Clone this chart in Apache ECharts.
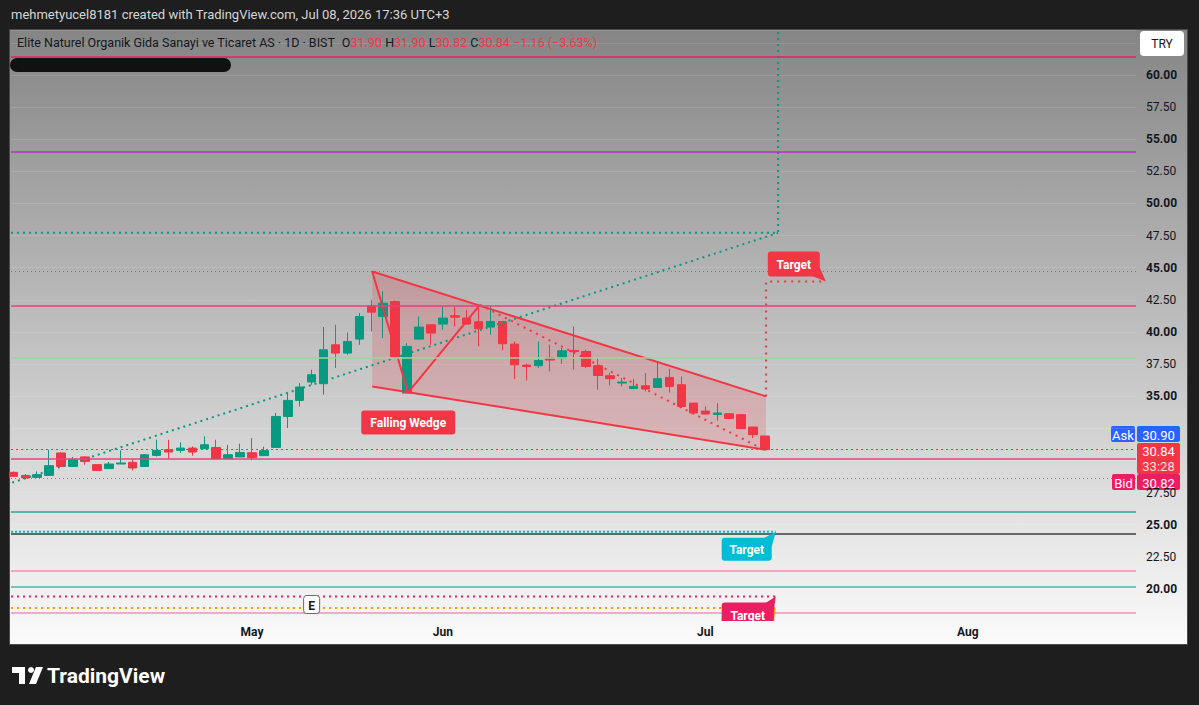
<!DOCTYPE html>
<html>
<head>
<meta charset="utf-8">
<script src="https://cdn.jsdelivr.net/npm/echarts@6/dist/echarts.min.js"></script>
<style>
html, body { margin: 0; padding: 0; background: #1e1e1e; }
#wrap { position: relative; width: 1199px; height: 705px; }
#panel { position: absolute; left: 10px; top: 30px; width: 1177px; height: 614px;
  background: linear-gradient(#858585, #fbfbfb); box-shadow: 0 0 0 1px #4a4a4a; }
#chart { position: absolute; left: 0; top: 0; width: 1199px; height: 705px; }
</style>
</head>
<body>
<div id="wrap">
<div id="panel"></div>
<div id="chart"></div>
</div>
<script>
// daily bars, index 0 = early April ... 63 = Jul 08
var opens = [29.07, 28.83, 28.68, 28.83, 30.58, 29.53, 30.27, 29.67, 29.36, 29.72,
	29.85, 29.53, 30.39, 30.83, 30.78, 30.96, 30.91, 31.01, 30.13, 30.27,
	30.60, 30.37, 31.01, 33.42, 34.67, 36.10, 35.97, 39.00, 38.35, 39.44,
	42.03, 41.20, 42.37, 35.24, 39.44, 40.56, 40.61, 41.26, 41.08, 40.79,
	40.38, 40.81, 39.05, 37.42, 37.37, 37.99, 37.96, 38.56, 38.48, 37.37,
	36.59, 36.02, 35.60, 35.81, 35.68, 36.46, 35.89, 34.46, 33.84, 33.58,
	33.63, 33.56, 32.60, 31.90];
var closes = [28.76, 28.63, 28.89, 29.59, 29.53, 30.06, 29.92, 29.22, 29.72, 29.80,
	29.41, 30.44, 30.78, 30.65, 30.96, 30.65, 31.22, 30.13, 30.44, 30.62,
	30.21, 30.76, 33.42, 34.67, 35.71, 36.67, 38.61, 38.35, 39.26, 41.20,
	41.54, 42.24, 38.04, 38.87, 40.38, 39.91, 41.08, 41.15, 40.61, 40.24,
	40.81, 39.08, 37.44, 37.31, 37.78, 37.81, 38.53, 38.46, 37.31, 36.61,
	36.36, 36.10, 35.76, 35.55, 36.36, 35.76, 34.20, 33.69, 33.61, 33.69,
	33.27, 32.47, 32.00, 30.84];
var lows = [28.71, 28.55, 28.63, 28.80, 29.49, 29.50, 29.67, 29.22, 29.36, 29.72,
	29.22, 29.53, 30.31, 30.13, 30.58, 30.37, 30.91, 30.13, 30.13, 30.27,
	30.02, 30.37, 31.01, 32.52, 34.20, 35.89, 35.11, 37.19, 38.22, 39.00,
	40.03, 39.52, 37.97, 35.24, 39.44, 39.00, 40.17, 40.42, 40.56, 38.87,
	39.78, 38.56, 36.33, 36.22, 37.19, 36.92, 37.52, 37.06, 37.19, 35.50,
	35.83, 35.76, 35.55, 35.37, 35.68, 35.29, 34.08, 33.56, 33.56, 33.09,
	33.22, 32.44, 31.74, 30.82];
var highs = [29.14, 28.94, 29.14, 30.83, 30.62, 30.27, 30.31, 29.67, 29.88, 30.78,
	30.11, 30.50, 31.61, 31.61, 31.40, 31.09, 31.87, 31.61, 31.22, 31.30,
	31.74, 31.07, 33.69, 35.24, 36.02, 37.06, 40.38, 40.56, 39.96, 41.47,
	42.50, 43.15, 42.45, 39.13, 41.20, 40.56, 41.98, 41.98, 41.72, 41.98,
	42.03, 40.81, 39.26, 37.52, 39.26, 39.00, 38.74, 40.42, 38.61, 37.97,
	36.80, 36.41, 36.33, 36.80, 37.62, 37.13, 36.53, 34.46, 34.20, 34.46,
	33.67, 33.60, 32.60, 31.90];

// month labels on the bar index scale
var monthTicks = [20, 36, 58, 80];
var monthNames = ['May', 'Jun', 'Jul', 'Aug'];

// price ticks hidden behind the ask / last / bid badges
var coveredTicks = [30, 32.5];

// horizontal levels across the whole chart
var levelPrices = [61.4, 54.0, 42.0, 38.0, 30.13, 26.0, 24.3, 21.38, 20.18, 18.18];
var dottedLevels = [44.70, 28.58];
var lastPrice = 30.84;

// drawings
var trendLine = [[-0.1, 28.27], [64.1, 47.71]];
var trendLevel = [[-0.2, 47.71], [64.1, 47.71], [64.1, 63.5]];
var wedgeUpper = [[30.08, 44.70], [63.09, 34.98]];
var wedgeLower = [[30.08, 35.76], [63.09, 30.83]];
var wedgeZigzag = [[30.08, 44.70], [33.08, 35.27], [39.11, 42.11]];
var wedgeProjection = [[39.11, 42.11], [62.75, 30.91]];
var redTarget = [[63.09, 34.98], [63.09, 43.92], [68.1, 43.92]];
var cyanTarget = [[-0.2, 24.45], [63.9, 24.45]];
var pinkTarget = [[-0.2, 19.40], [63.9, 19.40]];
var orangeTarget = [[-0.2, 18.52], [63.9, 18.52]];

// the orange target box sits under the pink one, so its text is not seen
var noteText = ['Falling Wedge', 'Target', 'Target', '', 'Target', 'E'];
var noteX = [30.08, 68.1, 63.9, 63.9, 63.9, 25.0];
var noteY = [35.76, 43.92, 24.45, 18.52, 19.40, 18.78];

var UP = '#089981', DOWN = '#f23645';
var FONT = 'Roboto, "Liberation Sans", sans-serif';

var levelColors = ['#e91e63', '#b531c4', '#e0457b', '#9fd49f', '#e0457b', '#26a69a', '#3c3c3c', '#f48fb1', '#4db6ac', '#f48fb1'];
var noteBox = [
	{dx: -11, dy: 24, w: 94, h: 24, fill: '#f23645', color: '#fff'},
	{dx: -58, dy: -30, w: 52, h: 25, fill: '#f23645', color: '#fff', tail: 'bottom'},
	{dx: -54, dy: 6, w: 50, h: 23, fill: '#00bcd4', color: '#fff', tail: 'top'},
	{dx: -54, dy: 6, w: 52, h: 24, fill: '#ff9800', color: '#fff', tail: 'top'},
	{dx: -54, dy: 6, w: 52, h: 24, fill: '#e91e63', color: '#fff', tail: 'top'},
	{dx: -8, dy: -9, w: 16, h: 18, fill: '#fff', stroke: '#666', color: '#131722'}
];

var candles = [];
for (var i = 0; i < opens.length; i++) {
	candles.push([i, opens[i], closes[i], lows[i], highs[i]]);
}

function seg(pts, color, width, type, z) {
	return {
		type: 'line', data: pts, symbol: 'none', silent: true, z: z || 4,
		lineStyle: {color: color, width: width, type: type, cap: 'butt'}
	};
}

var markLines = [];
levelPrices.forEach(function (p, k) {
	markLines.push({yAxis: p, lineStyle: {color: levelColors[k], width: 1.5, type: 'solid'}});
});
dottedLevels.forEach(function (p) {
	markLines.push({yAxis: p, lineStyle: {color: 'rgba(105,105,105,0.8)', width: 1, type: [1, 3]}});
});
markLines.push({yAxis: lastPrice, lineStyle: {color: '#f23645', width: 1, type: [2, 3]}});

function renderWedge(params, api) {
	var pts = [wedgeUpper[0], wedgeUpper[1], wedgeLower[1], wedgeLower[0]].map(function (p) {
		return api.coord(p);
	});
	return {type: 'polygon', shape: {points: pts}, style: {fill: 'rgba(242,54,69,0.2)'}};
}

function renderNote(params, api) {
	var k = params.dataIndex;
	var p = api.coord([api.value(0), api.value(1)]);
	var b = noteBox[k];
	var x0 = p[0] + b.dx, y0 = p[1] + b.dy;
	var kids = [];
	if (b.tail == 'bottom') {
		kids.push({type: 'polygon', shape: {points: [[x0 + b.w - 9, y0 + b.h - 1], [p[0], p[1]], [x0 + b.w, y0 + b.h - 9]]}, style: {fill: b.fill}});
	} else if (b.tail == 'top') {
		kids.push({type: 'polygon', shape: {points: [[x0 + b.w - 9, y0 + 1], [p[0], p[1]], [x0 + b.w, y0 + 9]]}, style: {fill: b.fill}});
	}
	kids.push({type: 'rect', shape: {x: x0, y: y0, width: b.w, height: b.h, r: 3},
		style: {fill: b.fill, stroke: b.stroke || null, lineWidth: 1}});
	if (noteText[k]) {
		kids.push({type: 'text', style: {text: noteText[k], x: x0 + b.w / 2, y: y0 + b.h / 2 + 1,
			align: 'center', verticalAlign: 'middle', fill: b.color, font: 'bold 12px ' + FONT}});
	}
	return {type: 'group', children: kids};
}

function badge(x, y, w, h, fill, text, size) {
	return {
		type: 'group', z: 100,
		children: [
			{type: 'rect', shape: {x: x, y: y, width: w, height: h, r: 2}, style: {fill: fill}},
			{type: 'text', style: {text: text, x: x + w / 2, y: y + h / 2 + 1, align: 'center', verticalAlign: 'middle',
				fill: '#fff', font: (size || 13) + 'px ' + FONT}}
		]
	};
}

var chart = echarts.init(document.getElementById('chart'), null, {renderer: 'svg'});
chart.setOption({
	animation: false,
	backgroundColor: 'transparent',
	grid: {left: 11, top: 30, width: 1125, height: 591},
	xAxis: {
		type: 'value', min: -0.2, max: 94.1,
		axisLine: {show: false}, axisTick: {show: false}, splitLine: {show: false},
		axisLabel: {
			customValues: monthTicks, margin: 5, color: '#131722', fontSize: 12, fontWeight: 'bold', fontFamily: FONT,
			formatter: function (v) {
				var k = monthTicks.indexOf(Math.round(v));
				return k < 0 ? '' : monthNames[k];
			}
		}
	},
	yAxis: {
		type: 'value', position: 'right', min: 17.5, max: 63.5, interval: 2.5,
		axisLine: {show: false}, axisTick: {show: false},
		splitLine: {lineStyle: {color: 'rgba(255,255,255,0.12)'}},
		axisLabel: {
			margin: 10, fontFamily: FONT, fontSize: 12, color: '#131722',
			formatter: function (v) {
				if (v < 19 || v > 62) return '';
				if (coveredTicks.indexOf(v) >= 0) return '';
				var s = v.toFixed(2);
				return Math.round(v * 100) % 500 == 0 ? '{b|' + s + '}' : s;
			},
			rich: {b: {fontWeight: 'bold', fontSize: 12, color: '#131722', fontFamily: FONT}}
		}
	},
	series: [
		{type: 'custom', renderItem: renderWedge, data: [[30, 40]], z: 1, silent: true, clip: true},
		{
			type: 'candlestick', data: candles, encode: {x: 0, y: [1, 2, 3, 4]}, barWidth: 9, z: 3,
			itemStyle: {color: UP, color0: DOWN, borderColor: UP, borderColor0: DOWN, borderWidth: 1},
			markLine: {silent: true, symbol: ['none', 'none'], label: {show: false}, data: markLines}
		},
		seg(trendLine, UP, 2, [2, 4]),
		seg(trendLevel, UP, 2, [2, 4]),
		seg(wedgeUpper, '#f23645', 2, 'solid'),
		seg(wedgeLower, '#f23645', 2, 'solid'),
		seg(wedgeZigzag, '#f23645', 2, 'solid'),
		seg(wedgeProjection, '#f23645', 2, [2, 5]),
		seg(redTarget, '#f23645', 2, [2, 5]),
		seg(cyanTarget, '#00bcd4', 2, [2, 2]),
		seg(pinkTarget, '#e91e63', 2, [2, 4]),
		seg(orangeTarget, '#ff9800', 2, [2, 4]),
		{
			type: 'custom', renderItem: renderNote, z: 10, silent: true, clip: true,
			data: noteX.map(function (x, k) { return [x, noteY[k]]; })
		}
	],
	graphic: [
		{type: 'text', left: 11, top: 8, style: {text: 'mehmetyucel8181 created with TradingView.com, Jul 08, 2026 17:36 UTC+3',
			fill: '#d6d6d6', font: '13px ' + FONT}},
		{type: 'text', left: 17, top: 36, z: 50, style: {
			text: '{n|Elite Naturel Organik Gida Sanayi ve Ticaret AS · 1D · BIST}  {n|O}{v|31.90} {n|H}{v|31.90} {n|L}{v|30.82} {n|C}{v|30.84} {v|−1.16 (−3.63%)}',
			rich: {
				n: {fill: '#131722', font: '12.5px ' + FONT},
				v: {fill: '#f23645', font: '12.5px ' + FONT}
			}
		}},
		{type: 'rect', z: 50, shape: {x: 10, y: 58, width: 221, height: 14, r: 7}, style: {fill: '#111'}},
		{type: 'group', z: 100, children: [
			{type: 'rect', shape: {x: 1140, y: 31, width: 44, height: 25, r: 4}, style: {fill: '#fff'}},
			{type: 'text', style: {text: 'TRY', x: 1162, y: 44, align: 'center', verticalAlign: 'middle', fill: '#131722', font: '12px ' + FONT}}
		]},
		badge(1111, 426, 24, 16, '#2962ff', 'Ask'),
		badge(1137, 426, 43, 16, '#2962ff', '30.90'),
		{type: 'group', z: 100, children: [
			{type: 'rect', shape: {x: 1137, y: 443, width: 43, height: 31, r: 2}, style: {fill: '#f23645'}},
			{type: 'text', style: {text: '30.84', x: 1158.5, y: 451, align: 'center', verticalAlign: 'middle', fill: '#fff', font: '13px ' + FONT}},
			{type: 'text', style: {text: '33:28', x: 1158.5, y: 466, align: 'center', verticalAlign: 'middle', fill: 'rgba(255,255,255,0.85)', font: '13px ' + FONT}}
		]},
		badge(1112, 474, 23, 16, '#e91e63', 'Bid'),
		badge(1137, 474, 43, 16, '#e91e63', '30.82'),
		{type: 'group', z: 100, children: [
			{type: 'rect', shape: {x: 12, y: 667, width: 13, height: 6}, style: {fill: '#fff'}},
			{type: 'rect', shape: {x: 19, y: 667, width: 6, height: 17}, style: {fill: '#fff'}},
			{type: 'circle', shape: {cx: 31, cy: 670, r: 3}, style: {fill: '#fff'}},
			{type: 'polygon', shape: {points: [[36, 667], [43, 667], [36, 684], [29, 684]]}, style: {fill: '#fff'}},
			{type: 'text', style: {text: 'TradingView', x: 47, y: 676, verticalAlign: 'middle', fill: '#fff', font: 'bold 21px ' + FONT}}
		]}
	]
});
</script>
</body>
</html>
